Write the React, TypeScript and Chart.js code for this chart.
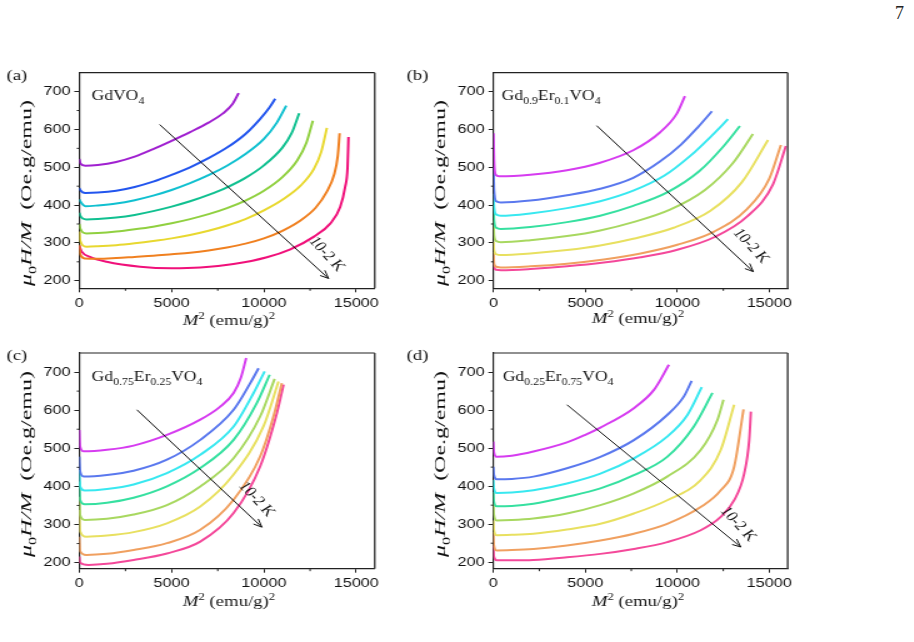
import React, { useEffect, useRef } from 'react';
import { Chart, registerables } from 'chart.js';
Chart.register(...registerables);

const K = 1.25; // horizontal stretch of the printed figure
const SANS = "'Liberation Sans', Arial, sans-serif";
const SERIF = "'Liberation Serif', 'Times New Roman', serif";

const xTickValues = [0, 2500, 5000, 7500, 10000, 12500, 15000];
const xTickLabels = ['0', '', '5000', '', '10000', '', '15000'];
const yTickValues = [200, 250, 300, 350, 400, 450, 500, 550, 600, 650, 700];
const yTickLabels = ['200', '', '300', '', '400', '', '500', '', '600', '', '700'];
const X_MAX = 16000;

const paletteA = ['#a020d0', '#2255ee', '#10c0d0', '#10c090', '#90d040', '#e8d830', '#f08020', '#f0107a'];
const paletteB = ['#d63cf0', '#5a78ee', '#38e8f0', '#36e0a0', '#a8d860', '#e8e060', '#f0a060', '#f4489a'];

// ---- (a) GdVO4 : 10 K (top) ... 2 K (bottom), points are [M^2, mu0H/M]
const a10 = [[0,522],[60,510],[325,504],[1000,506],[2000,514],[3000,528],[4000,548],[5000,570],[6000,593],[7000,618],[7800,643],[8300,667],[8630,696]];
const a9 = [[0,445],[50,440],[325,432],[1000,433],[2000,438],[3000,448],[4000,462],[5000,480],[6000,500],[7000,524],[8000,552],[9000,588],[9800,628],[10300,658],[10610,681]];
const a8 = [[0,415],[50,410],[325,397],[1000,399],[2000,404],[3000,413],[4000,425],[5000,440],[6000,458],[7000,479],[8000,504],[9000,535],[10000,575],[10700,618],[11210,663]];
const a7 = [[0,380],[50,372],[380,362],[1000,363],[2000,367],[3000,374],[4000,384],[5000,396],[6000,410],[7000,427],[8000,447],[9000,472],[10000,505],[11000,552],[11500,590],[11910,643]];
const a6 = [[0,350],[50,338],[380,325],[1000,326],[2000,330],[3000,336],[4000,343],[5000,352],[6000,363],[7000,376],[8000,392],[9000,412],[10000,438],[11000,474],[11800,518],[12300,565],[12650,623]];
const a5 = [[0,330],[50,305],[380,290],[1000,291],[2000,294],[3000,299],[4000,305],[5000,312],[6000,321],[7000,332],[8000,346],[9000,363],[10000,386],[11000,414],[12000,452],[12700,495],[13100,540],[13410,604]];
const a4 = [[0,295],[50,270],[300,259],[1000,258],[2000,260],[3000,263],[4000,266],[5000,270],[6000,274],[7000,280],[8000,288],[9000,298],[10000,312],[11000,332],[12000,360],[12800,393],[13400,435],[13800,480],[14000,530],[14100,590]];
const a3 = [[0,292],[130,277],[580,263],[1480,250],[3290,237],[5000,233],[6550,235],[8350,244],[10160,262],[11430,283],[12690,316],[13590,351],[14130,395],[14400,448],[14530,500],[14580,580]];

// ---- (b) Gd0.9Er0.1VO4
const b10 = [[0,590],[30,520],[120,480],[300,476],[2000,480],[4000,492],[5800,512],[7600,545],[9050,592],[9960,641],[10410,688]];
const b9 = [[0,500],[30,440],[150,410],[400,407],[2000,412],[4000,426],[5800,443],[7600,472],[9050,515],[10200,560],[11100,605],[11880,648]];
const b8 = [[0,430],[30,395],[150,375],[400,372],[2000,378],[4000,392],[5800,410],[7600,438],[9300,478],[10700,530],[11900,585],[12750,627]];
const b7 = [[0,400],[30,360],[150,340],[400,337],[2000,342],[4000,355],[5800,372],[7600,398],[9500,435],[11200,490],[12500,555],[13400,609]];
const b6 = [[0,360],[30,320],[150,305],[400,302],[2000,307],[4000,318],[5800,333],[7600,355],[9600,388],[11500,440],[13000,510],[14110,588]];
const b5 = [[0,303],[30,280],[150,270],[400,268],[2000,272],[4000,281],[5800,293],[7600,311],[9800,340],[11800,385],[13500,460],[14930,572]];
const b4 = [[0,276],[30,245],[150,237],[400,235],[2000,238],[4000,245],[6000,256],[8000,272],[10000,295],[12000,330],[13800,390],[15000,470],[15630,559]];
const b3 = [[0,246],[30,235],[150,229],[400,228],[2000,231],[4000,238],[6000,248],[8000,262],[10000,282],[12000,315],[13800,370],[15200,455],[15900,556]];

// ---- (c) Gd0.75Er0.25VO4
const c10 = [[0,548],[40,505],[235,492],[1500,496],[2942,507],[4747,535],[6552,575],[7600,608],[8357,645],[8750,685],[9040,737]];
const c9 = [[0,478],[40,440],[235,426],[1500,430],[2942,441],[4747,470],[6552,522],[8357,601],[9260,671],[9710,710]];
const c8 = [[0,443],[40,400],[300,389],[1500,393],[2942,405],[4747,435],[6552,483],[8357,557],[9440,645],[10040,702]];
const c7 = [[0,413],[40,365],[300,353],[1500,357],[2942,370],[4747,400],[6552,448],[8357,522],[9620,619],[10310,693]];
const c6 = [[0,373],[40,325],[300,312],[1500,315],[2942,326],[4747,351],[6552,400],[8357,474],[9800,584],[10580,682]];
const c5 = [[0,338],[40,282],[380,268],[1500,271],[2942,280],[4747,303],[6552,347],[8357,431],[9980,558],[10790,675]];
const c4 = [[0,268],[40,230],[380,220],[1500,223],[2942,233],[4747,251],[6552,286],[8357,365],[9800,479],[10520,584],[10970,671]];
const c3 = [[0,216],[40,200],[500,194],[1500,197],[2942,207],[4747,224],[6552,255],[8357,330],[9800,453],[10700,592],[11065,667]];

// ---- (d) Gd0.25Er0.75VO4
const d10 = [[0,517],[30,490],[180,477],[1000,480],[2180,491],[4000,515],[5000,535],[5820,554],[7640,605],[8730,653],[9545,719]];
const d9 = [[0,451],[30,430],[180,418],[1000,419],[2180,425],[4000,447],[5820,477],[7640,521],[9450,587],[10360,636],[10780,677]];
const d8 = [[0,416],[30,395],[180,382],[1000,383],[2180,389],[4000,407],[5820,433],[7640,473],[9450,530],[10550,587],[11330,660]];
const d7 = [[0,385],[30,360],[180,347],[1000,348],[2180,354],[4000,372],[5820,394],[7640,429],[9450,477],[10900,557],[11910,645]];
const d6 = [[0,354],[30,325],[180,310],[1000,311],[2180,315],[4000,328],[5820,350],[7640,381],[9450,425],[11270,495],[12180,574],[12510,627]];
const d5 = [[0,310],[30,285],[180,271],[1000,272],[2180,275],[4000,286],[5820,301],[7640,328],[9450,363],[11270,416],[12360,495],[13090,614]];
const d4 = [[0,279],[30,245],[180,231],[1000,232],[2180,235],[4000,244],[5820,257],[7640,275],[9450,301],[11270,345],[12360,389],[13090,451],[13600,602]];
const d3 = [[0,244],[30,215],[180,205],[1000,205],[2180,206],[4000,213],[5820,222],[7640,235],[9450,253],[11270,284],[12360,319],[13090,363],[13635,433],[13908,521],[14000,596]];

// ---- text
const formulaA = [['GdVO', 'n'], ['4', 'sub']];
const formulaB = [['Gd', 'n'], ['0.9', 'sub'], ['Er', 'n'], ['0.1', 'sub'], ['VO', 'n'], ['4', 'sub']];
const formulaC = [['Gd', 'n'], ['0.75', 'sub'], ['Er', 'n'], ['0.25', 'sub'], ['VO', 'n'], ['4', 'sub']];
const formulaD = [['Gd', 'n'], ['0.25', 'sub'], ['Er', 'n'], ['0.75', 'sub'], ['VO', 'n'], ['4', 'sub']];
const xTitle = [['M', 'i'], ['2', 'sup'], [' (emu/g)', 'n'], ['2', 'sup']];
const yTitle = [['\u03bc', 'i'], ['0', 'sub'], ['H/M', 'i'], ['  (Oe.g/emu)', 'n']];
const arrowLabel = '10-2 K';

// arrows in data coordinates [x1, y1, x2, y2] and label centre [x, y]
const arrowA = [4350, 613, 13500, 206];
const arrowB = [5610, 610, 14130, 224];
const arrowC = [3120, 601, 9890, 293];
const arrowD = [4000, 614, 13450, 240];
const arrowTextA = [13400, 270];
const arrowTextB = [14000, 292];
const arrowTextC = [9600, 366];
const arrowTextD = [13300, 300];

const W = 400; // panel width on page
const H = 280;

const panels = [
  { key: 'a', left: 0, top: 60, area: { l: 79.3, r: 374.7, t: 12.7, b: 228.3 }, yMin: 180, yMax: 750,
    series: [a10, a9, a8, a7, a6, a5, a4, a3], colors: paletteA, label: '(a)', formula: formulaA, formulaPos: [91.7, 39.5],
    arrow: arrowA, arrowText: arrowTextA, xTitlePos: [229, 265], yTitlePos: [31, 133] },
  { key: 'b', left: 400, top: 60, area: { l: 93.5, r: 387.7, t: 12.7, b: 228.3 }, yMin: 180, yMax: 750,
    series: [b10, b9, b8, b7, b6, b5, b4, b3], colors: paletteB, label: '(b)', formula: formulaB, formulaPos: [101.7, 40],
    arrow: arrowB, arrowText: arrowTextB, xTitlePos: [238, 263], yTitlePos: [45, 133] },
  { key: 'c', left: 0, top: 340, area: { l: 79.3, r: 374.7, t: 13, b: 228.7 }, yMin: 184, yMax: 750,
    series: [c10, c9, c8, c7, c6, c5, c4, c3], colors: paletteB, label: '(c)', formula: formulaC, formulaPos: [91.7, 40.7],
    arrow: arrowC, arrowText: arrowTextC, xTitlePos: [229, 266], yTitlePos: [31, 124] },
  { key: 'd', left: 400, top: 340, area: { l: 93.3, r: 387.7, t: 13, b: 228.7 }, yMin: 183, yMax: 750,
    series: [d10, d9, d8, d7, d6, d5, d4, d3], colors: paletteB, label: '(d)', formula: formulaD, formulaPos: [102.7, 40.7],
    arrow: arrowD, arrowText: arrowTextD, xTitlePos: [238, 266], yTitlePos: [45, 124] },
];

function segFont(style, size) {
  const small = style === 'sub' || style === 'sup';
  const fs = small ? size * 0.68 : size;
  return `${style === 'i' ? 'italic ' : ''}${fs}px ${SERIF}`;
}
function measureRich(ctx, segs, size) {
  let w = 0;
  for (const [t, st] of segs) { ctx.font = segFont(st, size); w += ctx.measureText(t).width; }
  return w;
}
function drawRich(ctx, segs, x, y, size) {
  let cx = x;
  ctx.textBaseline = 'alphabetic';
  ctx.textAlign = 'left';
  for (const [t, st] of segs) {
    ctx.font = segFont(st, size);
    const dy = st === 'sub' ? size * 0.3 : st === 'sup' ? -size * 0.4 : 0;
    ctx.fillText(t, cx, y + dy);
    cx += ctx.measureText(t).width;
  }
}

function makeDecor(cfg) {
  return {
    id: 'decor_' + cfg.key,
    afterDraw(chart) {
      const ctx = chart.ctx;
      const { left, right, top, bottom } = chart.chartArea;
      const xs = chart.scales.x;
      const ys = chart.scales.y;
      ctx.save();
      // frame top & right
      ctx.strokeStyle = '#222';
      ctx.lineWidth = 1.2;
      ctx.beginPath();
      ctx.moveTo(left, top);
      ctx.lineTo(right, top);
      ctx.stroke();
      ctx.strokeStyle = '#444';
      ctx.lineWidth = 1.5;
      ctx.beginPath();
      ctx.moveTo(right, top);
      ctx.lineTo(right, bottom);
      ctx.stroke();

      // minor ticks (shorter), at the unlabelled tick values of the scales
      ctx.strokeStyle = '#222';
      ctx.lineWidth = 1;
      ctx.beginPath();
      xTickValues.forEach((v, i) => {
        if (xTickLabels[i]) return;
        const px = xs.getPixelForValue(v);
        ctx.moveTo(px, bottom);
        ctx.lineTo(px, bottom + 2.5);
      });
      yTickValues.forEach((v, i) => {
        if (yTickLabels[i]) return;
        const py = ys.getPixelForValue(v);
        ctx.moveTo(left, py);
        ctx.lineTo(left - 2.5 / K, py);
      });
      ctx.stroke();

      ctx.fillStyle = '#111';
      // panel label
      ctx.font = `15px ${SERIF}`;
      ctx.textAlign = 'left';
      ctx.textBaseline = 'alphabetic';
      ctx.fillText(cfg.label, 6.5 / K, 20);

      // formula
      drawRich(ctx, cfg.formula, cfg.formulaPos[0] / K, cfg.formulaPos[1], 14);

      // arrow
      const [ax1, ay1, ax2, ay2] = cfg.arrow;
      const p1x = xs.getPixelForValue(ax1), p1y = ys.getPixelForValue(ay1);
      const p2x = xs.getPixelForValue(ax2), p2y = ys.getPixelForValue(ay2);
      ctx.strokeStyle = '#111';
      ctx.lineWidth = 1;
      ctx.beginPath();
      ctx.moveTo(p1x, p1y);
      ctx.lineTo(p2x, p2y);
      ctx.stroke();
      const ang = Math.atan2(p2y - p1y, (p2x - p1x) * K);
      const hl = 9;
      ctx.beginPath();
      for (const s of [-1, 1]) {
        const a = ang + Math.PI - s * 0.4;
        ctx.moveTo(p2x, p2y);
        ctx.lineTo(p2x + (Math.cos(a) * hl) / K, p2y + Math.sin(a) * hl);
      }
      ctx.stroke();

      // arrow label
      const tx = xs.getPixelForValue(cfg.arrowText[0]);
      const ty = ys.getPixelForValue(cfg.arrowText[1]);
      ctx.save();
      ctx.translate(tx, ty);
      ctx.rotate(Math.atan(Math.tan((47 * Math.PI) / 180) * K));
      ctx.font = `14px ${SERIF}`;
      ctx.textAlign = 'center';
      ctx.textBaseline = 'middle';
      ctx.fillText(arrowLabel, 0, 0);
      ctx.restore();

      // x title
      const xw = measureRich(ctx, xTitle, 15);
      drawRich(ctx, xTitle, cfg.xTitlePos[0] / K - xw / 2, cfg.xTitlePos[1], 15);

      // y title (rotated, baseline at given page x)
      ctx.save();
      ctx.translate(cfg.yTitlePos[0] / K, cfg.yTitlePos[1]);
      ctx.rotate(-Math.PI / 2);
      const fs = 12.5;
      const yw = measureRich(ctx, yTitle, fs);
      const stretch = 186 / yw;
      ctx.scale(stretch, 1);
      ctx.textBaseline = 'alphabetic';
      let cx = -yw / 2;
      for (const [t, st] of yTitle) {
        ctx.font = segFont(st, fs);
        const dy = st === 'sub' ? fs * 0.3 : 0;
        ctx.fillText(t, cx, dy);
        cx += ctx.measureText(t).width;
      }
      ctx.restore();
      ctx.restore();
    },
  };
}

function Panel({ cfg }) {
  const ref = useRef(null);
  const nativeW = W / K;
  useEffect(() => {
    const a = cfg.area;
    const tickColor = (labels) => (c) => (labels[c.index] ? '#222' : 'rgba(0,0,0,0)');
    const chart = new Chart(ref.current, {
      type: 'scatter',
      data: {
        datasets: cfg.series.map((pts, i) => ({
          data: pts.map(([x, y]) => ({ x, y })),
          borderColor: cfg.colors[i],
          backgroundColor: cfg.colors[i],
          borderWidth: 2,
          pointRadius: 0,
          showLine: true,
          fill: false,
          cubicInterpolationMode: 'monotone',
        })),
      },
      options: {
        responsive: false,
        animation: false,
        events: [],
        layout: { padding: { left: 0, top: a.t, right: (W - a.r) / K, bottom: 0 } },
        plugins: { legend: { display: false }, tooltip: { enabled: false } },
        scales: {
          x: {
            type: 'linear',
            min: 0,
            max: X_MAX,
            afterBuildTicks: (s) => { s.ticks = xTickValues.map((v) => ({ value: v })); },
            afterFit: (s) => { s.height = H - a.b; },
            ticks: {
              autoSkip: false, maxRotation: 0, minRotation: 0, padding: 3,
              font: { family: SANS, size: 13 }, color: '#111',
              callback: (v, i) => xTickLabels[i],
            },
            grid: { display: true, drawOnChartArea: false, drawTicks: true, tickLength: 4, color: '#222', tickColor: tickColor(xTickLabels), lineWidth: 1 },
            border: { display: true, color: '#222', width: 1.2 },
          },
          y: {
            type: 'linear',
            min: cfg.yMin,
            max: cfg.yMax,
            afterBuildTicks: (s) => { s.ticks = yTickValues.map((v) => ({ value: v })); },
            afterFit: (s) => { s.width = a.l / K; },
            ticks: {
              autoSkip: false, padding: 3,
              font: { family: SANS, size: 13 }, color: '#111',
              callback: (v, i) => yTickLabels[i],
            },
            grid: { display: true, drawOnChartArea: false, drawTicks: true, tickLength: 4, color: '#222', tickColor: tickColor(yTickLabels), lineWidth: 1 },
            border: { display: true, color: '#222', width: 1.2 },
          },
        },
      },
      plugins: [makeDecor(cfg)],
    });
    return () => chart.destroy();
  }, [cfg]);
  return (
    <div style={{ position: 'absolute', left: cfg.left, top: cfg.top, width: nativeW, height: H, transform: `scaleX(${K})`, transformOrigin: '0 0' }}>
      <canvas ref={ref} width={nativeW} height={H} style={{ display: 'block', width: nativeW, height: H }} />
    </div>
  );
}

export default function App() {
  return (
    <div style={{ position: 'fixed', left: 0, top: 0, width: 914, height: 642, background: '#fff', overflow: 'hidden' }}>
      <div style={{ position: 'absolute', left: 895, top: 3, fontFamily: SERIF, fontSize: 18, color: '#222' }}>7</div>
      {panels.map((p) => (
        <Panel key={p.key} cfg={p} />
      ))}
    </div>
  );
}
